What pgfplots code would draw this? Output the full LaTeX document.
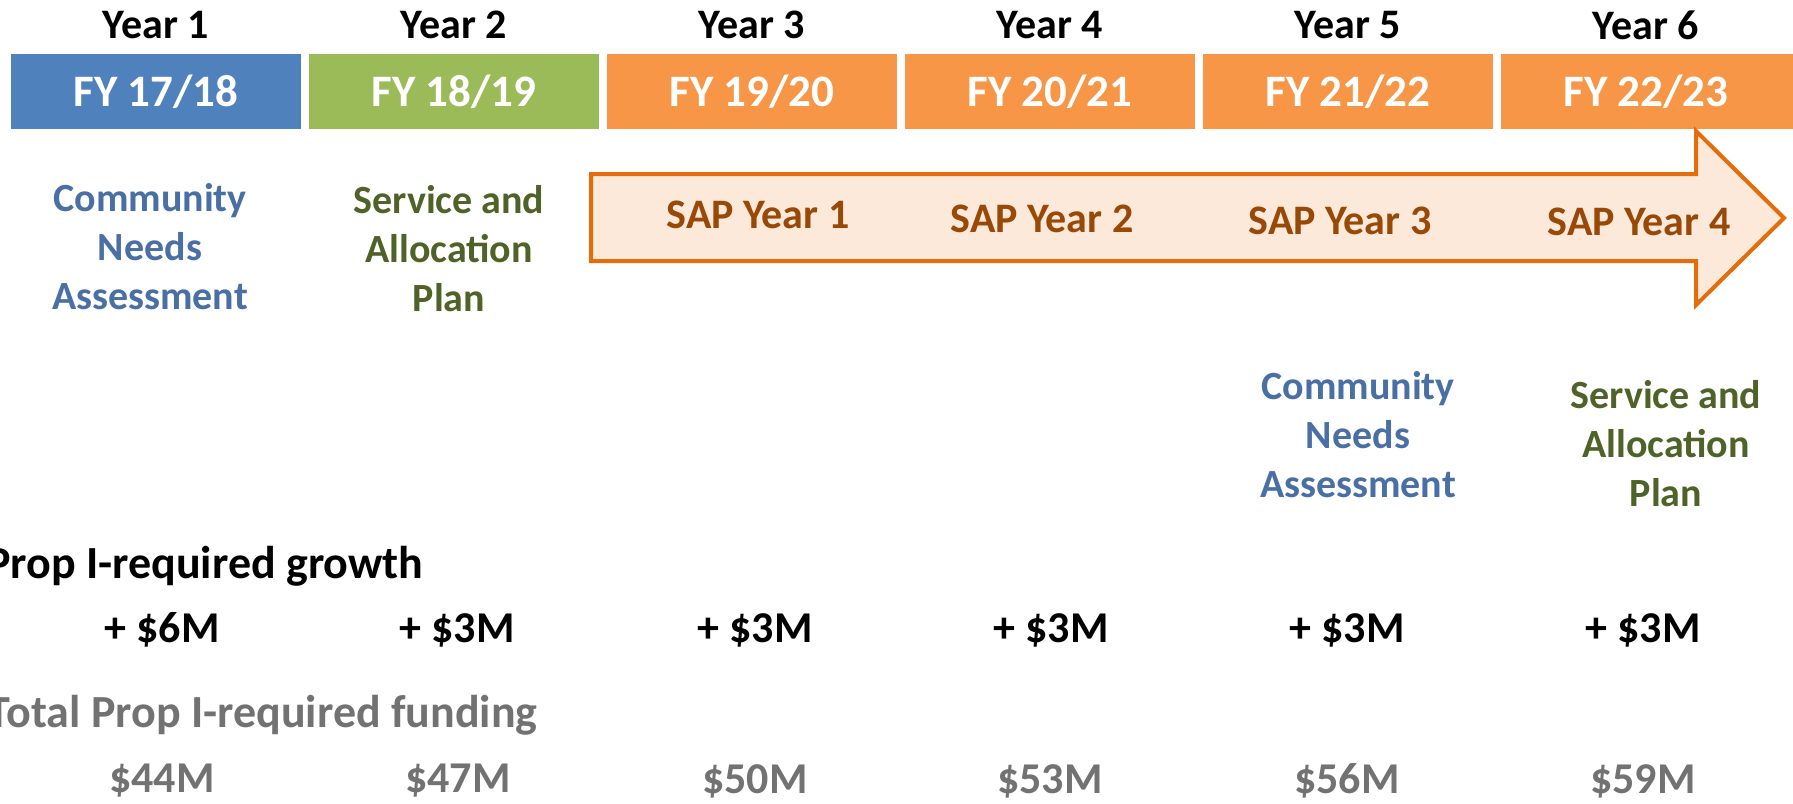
\documentclass[border=0pt]{standalone}
\usepackage{pgfplots}
\pgfplotsset{compat=1.18}
\usepackage{fontspec}
\setmainfont{Carlito}
\definecolor{bxblue}{HTML}{4F81BD}
\definecolor{bxgreen}{HTML}{9BBB59}
\definecolor{bxorange}{HTML}{F79646}
\definecolor{txblue}{HTML}{4A6FA5}
\definecolor{txgreen}{HTML}{4F6228}
\definecolor{txbrown}{HTML}{984807}
\definecolor{txgray}{HTML}{727272}
\definecolor{arfill}{HTML}{FDE9D9}
\definecolor{arline}{HTML}{E46C0A}
\tikzset{t/.style={font=\fontsize{20}{24.5}\selectfont\bfseries, align=center, inner sep=0pt},
  ty/.style={t, font=\fontsize{21}{25}\selectfont\bfseries},
  tf/.style={t, font=\fontsize{22.5}{26}\selectfont\bfseries},
  tb/.style={t, font=\fontsize{22}{26}\selectfont\bfseries},
  tl/.style={t, font=\fontsize{23}{27}\selectfont\bfseries}}
\begin{document}
\begin{tikzpicture}
\begin{axis}[name=ax, scale only axis, width=896.5pt, height=401.5pt,
  xmin=0, xmax=1793, ymin=0, ymax=803, y dir=reverse, hide axis, clip=false]
% FY boxes
\addplot[fill=bxblue, draw=none] coordinates {(11,54) (301,54) (301,129) (11,129)} --cycle;
\addplot[fill=bxgreen, draw=none] coordinates {(309,54) (599,54) (599,129) (309,129)} --cycle;
\addplot[fill=bxorange, draw=none] coordinates {(607,54) (897,54) (897,129) (607,129)} --cycle;
\addplot[fill=bxorange, draw=none] coordinates {(905,54) (1195,54) (1195,129) (905,129)} --cycle;
\addplot[fill=bxorange, draw=none] coordinates {(1203,54) (1493,54) (1493,129) (1203,129)} --cycle;
\addplot[fill=bxorange, draw=none] coordinates {(1501,54) (1793,54) (1793,129) (1501,129)} --cycle;
% SAP arrow
\addplot[fill=arfill, draw=arline, line width=2pt, line join=miter] coordinates {(591,174) (1696,174) (1696,131) (1784,218) (1696,305) (1696,261) (591,261)} --cycle;
% year labels
\node[ty] at (156,25) {Year 1};
\node[ty] at (454,25) {Year 2};
\node[ty] at (752,25) {Year 3};
\node[ty] at (1050,25) {Year 4};
\node[ty] at (1348,25) {Year 5};
\node[ty] at (1646,25) {Year 6};
% FY labels
\node[tf, text=white] at (156,92) {FY 17/18};
\node[tf, text=white] at (454,92) {FY 18/19};
\node[tf, text=white] at (752,92) {FY 19/20};
\node[tf, text=white] at (1050,92) {FY 20/21};
\node[tf, text=white] at (1348,92) {FY 21/22};
\node[tf, text=white] at (1646,92) {FY 22/23};
% phases
\node[t, text=txblue] at (150,247) {Community\\Needs\\Assessment};
\node[t, text=txgreen] at (449,249) {Service and\\Allocation\\Plan};
\node[t, text=txblue] at (1358,435) {Community\\Needs\\Assessment};
\node[t, text=txgreen] at (1666,444) {Service and\\Allocation\\Plan};
% SAP years
\node[ty, text=txbrown] at (758,215) {SAP Year 1};
\node[ty, text=txbrown] at (1042,219) {SAP Year 2};
\node[ty, text=txbrown] at (1340,221) {SAP Year 3};
\node[ty, text=txbrown] at (1639,222) {SAP Year 4};
% growth
\node[tl, anchor=east] at (424,566) {Prop I-required growth};
\node[tb] at (162,630) {+ \$6M};
\node[tb] at (457,630) {+ \$3M};
\node[tb] at (755,630) {+ \$3M};
\node[tb] at (1051,630) {+ \$3M};
\node[tb] at (1347,630) {+ \$3M};
\node[tb] at (1643,630) {+ \$3M};
% total
\node[tl, anchor=east, text=txgray] at (538,715) {Total Prop I-required funding};
\node[tb, text=txgray] at (162,781) {\$44M};
\node[tb, text=txgray] at (458,781) {\$47M};
\node[tb, text=txgray] at (755,781) {\$50M};
\node[tb, text=txgray] at (1050,781) {\$53M};
\node[tb, text=txgray] at (1347,781) {\$56M};
\node[tb, text=txgray] at (1643,781) {\$59M};
\end{axis}
\pgfresetboundingbox
\path[use as bounding box] (ax.south west) rectangle (ax.north east);
\end{tikzpicture}
\end{document}
